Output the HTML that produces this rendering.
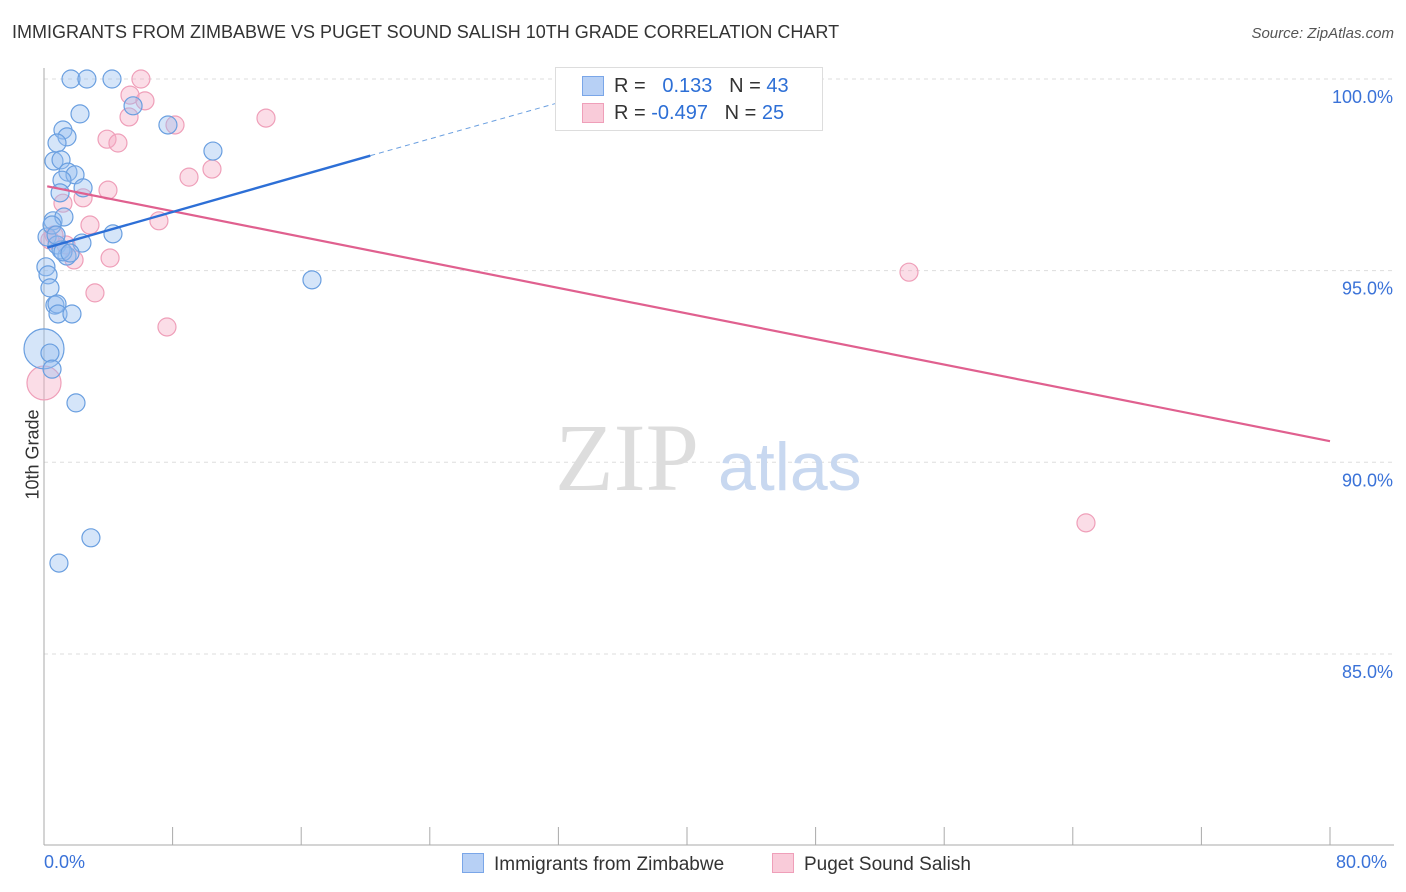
<!DOCTYPE html>
<html><head><meta charset="utf-8">
<style>
body{margin:0;background:#fff;font-family:"Liberation Sans",sans-serif;}
#wrap{position:relative;width:1406px;height:892px;overflow:hidden;}
.t{position:absolute;white-space:nowrap;}
</style></head><body>
<div id="wrap">
<div class="t" style="left:12px;top:22px;font-size:18px;color:#333;">IMMIGRANTS FROM ZIMBABWE VS PUGET SOUND SALISH 10TH GRADE CORRELATION CHART</div>
<div class="t" style="right:12px;top:25px;font-size:15px;color:#555;font-style:italic;">Source: ZipAtlas.com</div>
<svg id="svg" width="1406" height="892" style="position:absolute;left:0;top:0"></svg>
</div>
<script>
const blueX=[1.68,2.67,4.23,2.24,7.71,10.51,1.18,1.43,0.81,0.62,1.06,1.49,1.93,1.12,1.0,2.43,0.56,1.24,0.19,0.81,2.36,4.29,1.43,1.06,0.12,0.25,0.37,0.68,0.81,0.87,1.74,0.0,0.37,0.5,1.99,2.92,0.93,16.67,5.54,0.5,0.75,1.18,1.62];
const blueY=[100,100,100,99.09,98.8,98.12,98.67,98.49,98.33,97.86,97.89,97.57,97.5,97.36,97.03,97.16,96.3,96.4,95.88,95.67,95.72,95.96,95.38,95.54,95.1,94.89,94.55,94.1,94.13,93.87,93.87,92.96,92.85,92.43,91.55,88.03,87.37,94.76,99.3,96.19,95.93,95.49,95.46];
const blueR=[9,9,9,9,9,9,9,9,9,9,9,9,9,9,9,9,9,9,9,9,9,9,9,9,9,9,9,9,9,9,9,20,9,9,9,9,9,9,9,9,9,9,9];
const pinkX=[6.03,5.35,6.28,5.29,3.92,4.6,8.15,13.81,7.15,9.02,10.45,2.86,2.43,1.18,4.11,1.87,0.62,0.37,3.17,7.65,0,53.81,64.82,3.98,1.37];
const pinkY=[100,99.58,99.43,99.01,98.43,98.33,98.8,98.98,96.3,97.44,97.65,96.19,96.9,96.76,95.33,95.28,95.93,95.8,94.42,93.53,92.07,94.96,88.42,97.1,95.67];
const pinkR=[9,9,9,9,9,9,9,9,9,9,9,9,9,9,9,9,9,9,9,9,17,9,9,9,9];
const blueTrend=[[0.2,95.6],[20.3,98.0]];
const blueTrendExt=[[20.3,98.0],[33,99.5]];
const pinkTrend=[[0.2,97.2],[80,90.55]];
const yTicks=[100,95,90,85];
const yTickLabels=["100.0%","95.0%","90.0%","85.0%"];
const xTickVals=[0,8,16,24,32,40,48,56,64,72,80];

const X0=44,X1=1330,Y100=79,PXPER=38.33;
const sx=v=>X0+(v/80)*(X1-X0);
const sy=v=>Y100+(100-v)*PXPER;
const svg=document.getElementById('svg');
const NS='http://www.w3.org/2000/svg';
function mk(tag,attrs){const e=document.createElementNS(NS,tag);for(const k in attrs)e.setAttribute(k,attrs[k]);svg.appendChild(e);return e;}

yTicks.forEach((v,i)=>{
 const g=mk('line',{x1:44,x2:1394,y1:sy(v),y2:sy(v),stroke:'#ddd','stroke-dasharray':'4,4'});
 
 
 const t=mk('text',{x:1393,y:sy(v)+24,'text-anchor':'end','font-size':18,fill:'#3a72d8','font-family':'Liberation Sans'});
 t.textContent=yTickLabels[i];
 
 
});
const ax=mk('line',{x1:44,x2:44,y1:68,y2:845,stroke:'#aaa'});


const bx=mk('line',{x1:44,x2:1394,y1:845,y2:845,stroke:'#aaa'});


xTickVals.forEach(v=>{
 const l=mk('line',{x1:sx(v),x2:sx(v),y1:827,y2:845,stroke:'#aaa'});
 
 
});
// watermark
const w1=mk('text',{x:555,y:490,'font-size':96,fill:'#ddd','font-family':'Liberation Serif'});w1.textContent='ZIP';


const w2=mk('text',{x:718,y:490,'font-size':68,fill:'#c8d8f0','font-family':'Liberation Sans'});w2.textContent='atlas';



pinkX.forEach((x,i)=>{
 const c=mk('circle',{cx:sx(x),cy:sy(pinkY[i]),r:pinkR[i],fill:'rgba(246,170,195,0.4)',stroke:'#ef9fb9','stroke-width':1.2});
 
 
});
blueX.forEach((x,i)=>{
 const c=mk('circle',{cx:sx(x),cy:sy(blueY[i]),r:blueR[i],fill:'rgba(150,190,240,0.4)',stroke:'#6a9fe0','stroke-width':1.2});
 
 
});
const pl=mk('line',{x1:sx(pinkTrend[0][0]),y1:sy(pinkTrend[0][1]),x2:sx(pinkTrend[1][0]),y2:sy(pinkTrend[1][1]),stroke:'#e0608f','stroke-width':2.2});


const bl=mk('line',{x1:sx(blueTrend[0][0]),y1:sy(blueTrend[0][1]),x2:sx(blueTrend[1][0]),y2:sy(blueTrend[1][1]),stroke:'#2d6fd6','stroke-width':2.4});


const bd=mk('line',{x1:sx(blueTrendExt[0][0]),y1:sy(blueTrendExt[0][1]),x2:sx(blueTrendExt[1][0]),y2:sy(blueTrendExt[1][1]),stroke:'#6a9fe0','stroke-width':1,'stroke-dasharray':'5,4'});


</script>
<div class="t" style="left:-12px;top:444px;font-size:18px;color:#333;transform:rotate(-90deg);">10th Grade</div>
<div class="t" style="left:44px;top:852px;font-size:18px;color:#3a72d8;">0.0%</div>
<div class="t" style="left:1336px;top:852px;font-size:18px;color:#3a72d8;">80.0%</div>
<div style="position:absolute;left:555px;top:67px;width:266px;height:62px;border:1px solid #ddd;background:#fff;font-size:20px;">
 <div style="position:absolute;left:26px;top:8px;width:20px;height:18px;background:#b7d0f5;border:1px solid #7aa6e8;"></div>
 <div class="t" style="left:58px;top:7px;color:#333;">R = &nbsp;&nbsp;<span style="color:#2d6fd6">0.133</span>&nbsp;&nbsp;&nbsp;N = <span style="color:#2d6fd6">43</span></div>
 <div style="position:absolute;left:26px;top:35px;width:20px;height:18px;background:#f9cbd9;border:1px solid #ef9fb9;"></div>
 <div class="t" style="left:58px;top:34px;color:#333;">R = <span style="color:#2d6fd6">-0.497</span>&nbsp;&nbsp;&nbsp;N = <span style="color:#2d6fd6">25</span></div>
</div>
<div style="position:absolute;left:462px;top:853px;font-size:19px;color:#333;">
 <span style="display:inline-block;width:20px;height:18px;background:#b7d0f5;border:1px solid #7aa6e8;vertical-align:-3px;margin-right:10px;"></span>Immigrants from Zimbabwe</div>
<div style="position:absolute;left:772px;top:853px;font-size:19px;color:#333;">
 <span style="display:inline-block;width:20px;height:18px;background:#f9cbd9;border:1px solid #ef9fb9;vertical-align:-3px;margin-right:10px;"></span>Puget Sound Salish</div>
</body></html>
